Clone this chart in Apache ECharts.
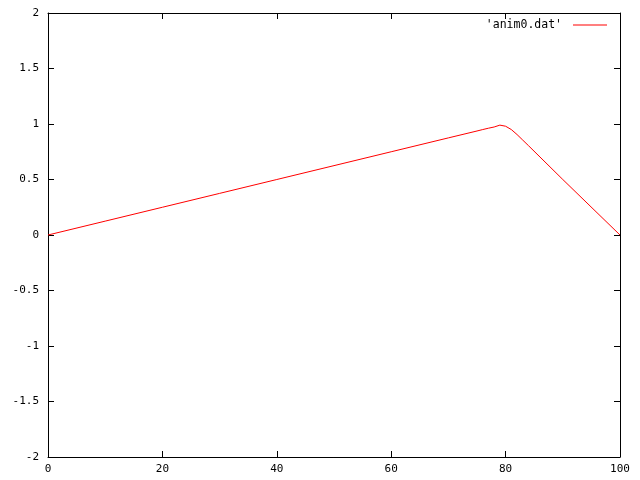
<!DOCTYPE html>
<html>
<head>
<meta charset="utf-8">
<script src="https://cdn.jsdelivr.net/npm/echarts@6/dist/echarts.min.js"></script>
<style>html,body{margin:0;padding:0;background:#fff}#c{width:640px;height:480px}</style>
</head>
<body>
<div id="c"></div>
<script>
var seriesName = "'anim0.dat'";
var xs = [0, 10, 20, 30, 40, 50, 60, 70, 75, 76, 77, 78, 79, 80, 81, 82, 83, 84, 90, 100];
var ys = [0, 0.125, 0.25, 0.375, 0.5, 0.625, 0.75, 0.875, 0.937, 0.95, 0.962, 0.973, 0.99, 0.98, 0.95, 0.905, 0.855, 0.805, 0.5, 0];
var xMin = 0, xMax = 100, xStep = 20;
var yMin = -2, yMax = 2, yStep = 0.5;

var data = xs.map(function (x, i) { return [x, ys[i]]; });
var font = 'DejaVu Sans Mono';
var labelStyle = { color: '#000', fontFamily: font, fontSize: 11 };
function axisBase(extra) {
  return Object.assign({
    type: 'value',
    axisLine: { show: true, onZero: false, lineStyle: { color: '#000', width: 1 } },
    axisTick: { show: true, inside: true, length: 6, lineStyle: { color: '#000' } },
    splitLine: { show: false }
  }, extra);
}
var chart = echarts.init(document.getElementById('c'), null, { renderer: 'canvas' });
chart.setOption({
  animation: false,
  backgroundColor: '#fff',
  grid: { left: 48, right: 20, top: 13, bottom: 23, containLabel: false },
  legend: {
    right: 33, top: 19, align: 'right', icon: 'rect', itemWidth: 34, itemHeight: 1,
    itemGap: 0, padding: 0,
    textStyle: { color: '#000', fontFamily: font, fontSize: 11.5, padding: [0, 6, 0, 0] },
    data: [seriesName]
  },
  xAxis: [
    axisBase({ position: 'bottom', min: xMin, max: xMax, interval: xStep,
      axisLabel: Object.assign({ margin: 7 }, labelStyle) }),
    axisBase({ position: 'top', min: xMin, max: xMax, interval: xStep,
      axisLabel: { show: false } })
  ],
  yAxis: [
    axisBase({ position: 'left', min: yMin, max: yMax, interval: yStep,
      axisLabel: Object.assign({ margin: 9 }, labelStyle) }),
    axisBase({ position: 'right', min: yMin, max: yMax, interval: yStep,
      axisLabel: { show: false } })
  ],
  series: [{
    name: seriesName,
    type: 'line',
    data: data,
    showSymbol: false,
    symbol: 'none',
    lineStyle: { color: '#ff0000', width: 1 },
    itemStyle: { color: '#ff0000' }
  }]
});
</script>
</body>
</html>
